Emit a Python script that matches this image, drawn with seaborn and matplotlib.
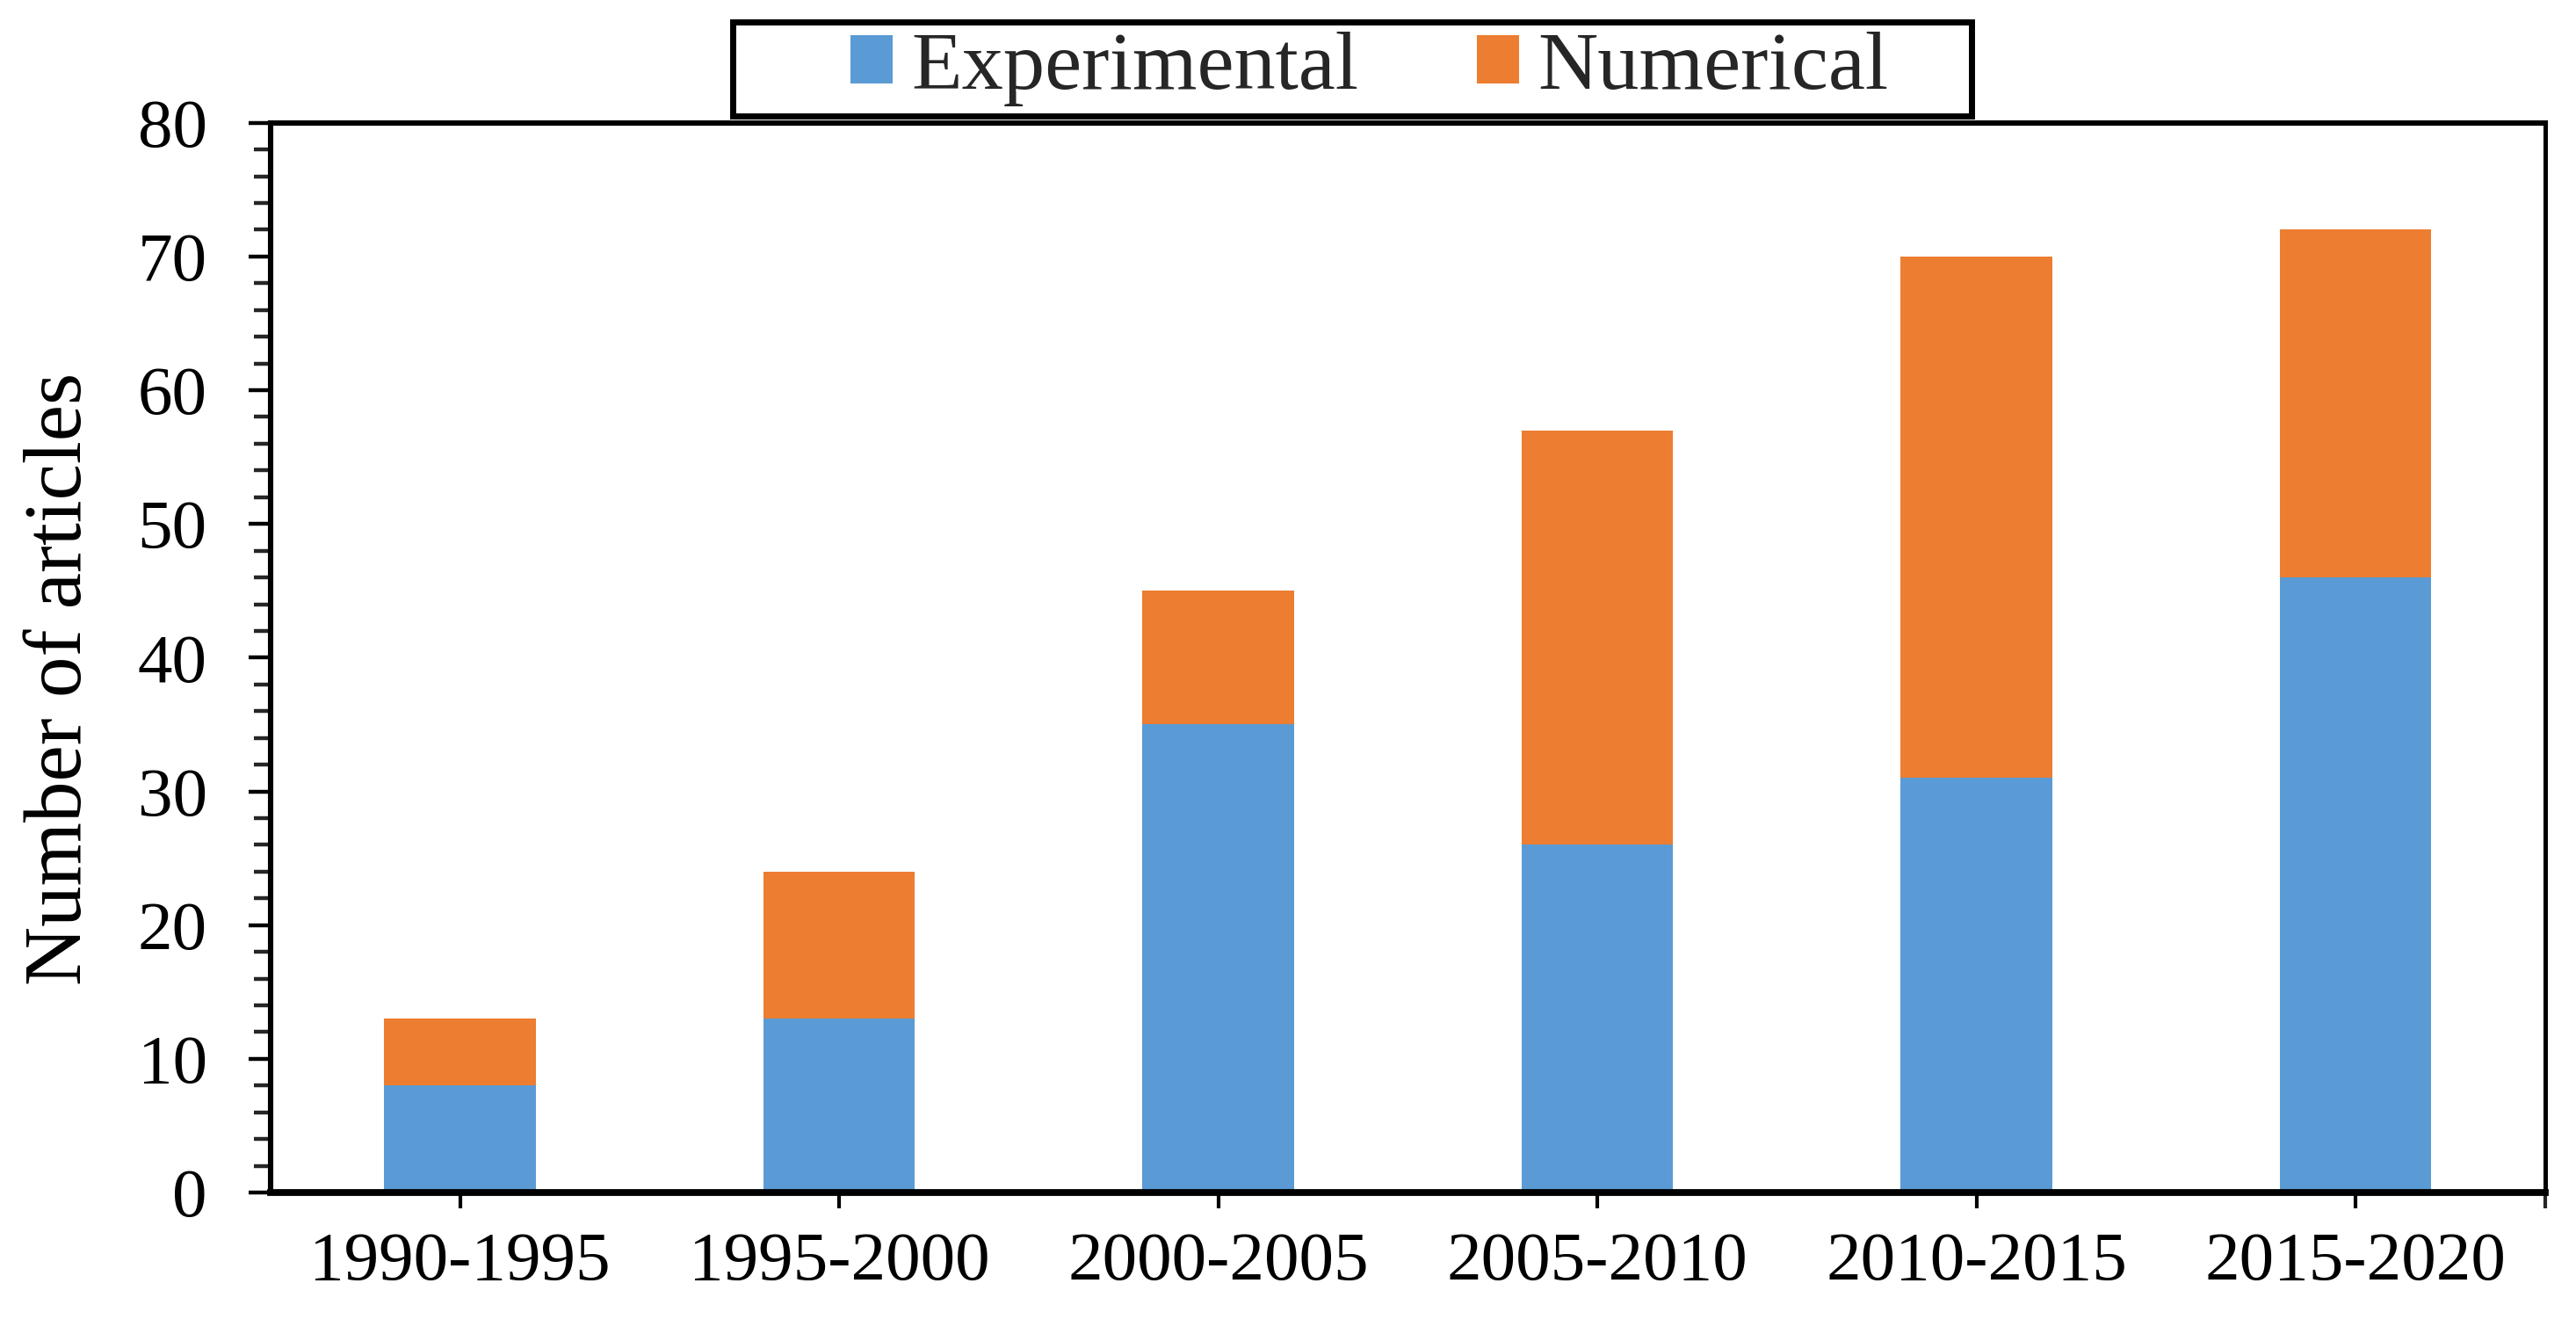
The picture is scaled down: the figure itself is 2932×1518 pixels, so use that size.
import matplotlib
matplotlib.use("Agg")
import matplotlib.pyplot as plt
import seaborn as sns
import pandas as pd
from matplotlib.patches import Patch, Rectangle
from matplotlib.ticker import MultipleLocator, FixedLocator

periods = ["1990-1995", "1995-2000", "2000-2005", "2005-2010", "2010-2015", "2015-2020"]
experimental = [8, 13, 35, 26, 31, 46]
numerical = [5, 11, 10, 31, 39, 26]
series_names = ["Experimental", "Numerical"]
colors = ["#5B9BD5", "#ED7D31"]
y_ticks = [0, 10, 20, 30, 40, 50, 60, 70, 80]

sns.set_theme(style="white")
plt.rcParams["font.family"] = ["Liberation Serif", "DejaVu Serif"]

df = pd.DataFrame({
    "period": periods,
    "Experimental": experimental,
    "Numerical": numerical,
})
df["total"] = df["Experimental"] + df["Numerical"]

fig = plt.figure(figsize=(14.66, 7.59), dpi=200)
ax = fig.add_axes([0.105, 0.106, 0.883, 0.802])

sns.barplot(data=df, x="period", y="total", color=colors[1], width=0.4,
            saturation=1, ax=ax, order=periods, linewidth=0)
sns.barplot(data=df, x="period", y="Experimental", color=colors[0], width=0.4,
            saturation=1, ax=ax, order=periods, linewidth=0)

ax.set_xlim(-0.5, len(periods) - 0.5)
ax.set_ylim(0, 80)
ax.yaxis.set_major_locator(FixedLocator(y_ticks))
ax.yaxis.set_minor_locator(MultipleLocator(2))
ax.xaxis.set_minor_locator(FixedLocator([len(periods) - 0.5]))

ax.set_xlabel("")
ax.set_ylabel("Number of articles", fontsize=33.5, color="black", labelpad=16, y=0.48)

for side in ["left", "bottom", "top", "right"]:
    ax.spines[side].set_visible(True)
    ax.spines[side].set_color("black")
ax.spines["left"].set_linewidth(2.2)
ax.spines["bottom"].set_linewidth(2.8)
ax.spines["top"].set_linewidth(2.2)
ax.spines["right"].set_linewidth(1.8)

ax.tick_params(axis="y", which="major", direction="out", length=9, width=1.6,
               labelsize=28.5, colors="black", left=True, pad=17)
ax.tick_params(axis="y", which="minor", direction="out", length=7, width=1.6, left=True)
ax.tick_params(axis="x", which="major", direction="out", length=6.5, width=1.5,
               labelsize=28.5, colors="black", bottom=True, pad=9.5)
ax.tick_params(axis="x", which="minor", direction="out", length=6.5, width=1.5, bottom=True)

# legend box
fig.patches.append(Rectangle((0.2845, 0.9130), 0.4808, 0.0705, transform=fig.transFigure,
                             facecolor="white", edgecolor="black", linewidth=2.5,
                             zorder=5))

handles = [Patch(facecolor=colors[0], edgecolor="none", label=series_names[0]),
           Patch(facecolor=colors[1], edgecolor="none", label=series_names[1])]
leg = fig.legend(handles=handles, loc="center left", bbox_to_anchor=(0.3302, 0.9483),
                 ncol=2, fontsize=34, frameon=False, handlelength=0.51, handleheight=0.51,
                 handletextpad=0.22, columnspacing=1.43, borderpad=0,
                 borderaxespad=0)
leg.set_zorder(6)

fig.savefig("out.png", dpi=200, facecolor="white")
